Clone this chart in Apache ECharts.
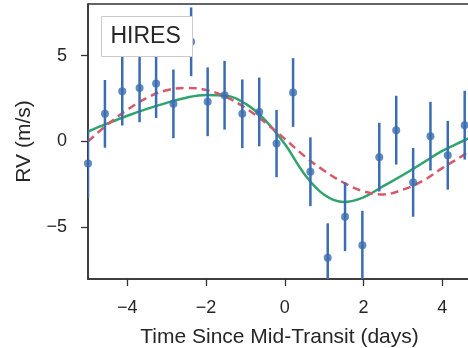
<!DOCTYPE html>
<html>
<head>
<meta charset="utf-8">
<script src="https://cdn.jsdelivr.net/npm/echarts@6/dist/echarts.min.js"></script>
<style>
html,body{margin:0;padding:0;background:#fff;}
#chart{width:468px;height:348px;}
</style>
</head>
<body>
<div id="chart"></div>
<script>
// Data points (time, RV, error)
var obsTime = [-5.0, -4.57, -4.13, -3.69, -3.27, -2.83, -2.38, -1.96, -1.53, -1.08, -0.65, -0.21, 0.21, 0.65, 1.09, 1.53, 1.97, 2.40, 2.83, 3.26, 3.70, 4.14, 4.57];
var obsRV   = [-1.28, 1.61, 2.93, 3.12, 3.37, 2.19, 5.8, 2.31, 2.69, 1.61, 1.72, -0.12, 2.85, -1.76, -6.76, -4.38, -6.03, -0.91, 0.66, -2.38, 0.31, -0.80, 0.95];
var obsErr  = [2.0, 1.97, 2.0, 2.0, 2.0, 2.0, 2.0, 2.0, 2.0, 2.0, 2.0, 1.96, 2.0, 2.0, 2.0, 2.0, 2.0, 2.0, 2.0, 2.0, 2.0, 2.0, 2.0];

// Model curves
var modelTime  = [-5.0, -4.5, -4.0, -3.5, -3.0, -2.5, -2.0, -1.5, -1.0, -0.5, 0.0, 0.5, 1.0, 1.5, 2.0, 2.5, 3.0, 3.5, 4.0, 4.5, 4.73];
var greenModel = [0.58, 1.05, 1.5, 1.9, 2.25, 2.55, 2.7, 2.66, 2.2, 1.25, -0.15, -1.9, -3.1, -3.52, -3.25, -2.6, -1.95, -1.25, -0.55, 0.0, 0.24];
var redModel   = [0.0, 1.0, 1.85, 2.55, 2.98, 3.12, 3.0, 2.6, 1.95, 1.1, 0.15, -0.85, -1.7, -2.4, -2.9, -3.08, -2.8, -2.3, -1.55, -0.85, -0.48];

var xTicks = [-4, -2, 0, 2, 4];
var yTicks = [-5, 0, 5];
var legendText = 'HIRES';

var errData = obsTime.map(function (t, i) { return [t, obsRV[i], obsErr[i]]; });
var ptData = obsTime.map(function (t, i) { return [t, obsRV[i]]; });
var greenData = modelTime.map(function (t, i) { return [t, greenModel[i]]; });
var redData = modelTime.map(function (t, i) { return [t, redModel[i]]; });

var blue = '#3a6db2';
var fmt = function (v) { return String(v).replace('-', '\u2212'); };
var font = '"Liberation Sans", Arial, sans-serif';

var chart = echarts.init(document.getElementById('chart'));
chart.setOption({
  animation: false,
  backgroundColor: '#fff',
  grid: { left: 88, top: 4, right: -3, bottom: 69, show: true, borderColor: '#333', borderWidth: 1.5, backgroundColor: 'transparent', containLabel: false, outerBoundsMode: 'none' },
  xAxis: {
    type: 'value', min: -5, max: 4.73,
    name: 'Time Since Mid-Transit (days)', nameLocation: 'middle', nameGap: 48,
    nameTextStyle: { fontFamily: font, fontSize: 21, color: '#262626' },
    axisLine: { show: true, onZero: false, lineStyle: { color: '#333', width: 1.5 } },
    axisTick: { show: true, length: 7, customValues: xTicks, lineStyle: { color: '#333', width: 1.3 } },
    axisLabel: { customValues: xTicks, formatter: fmt, margin: 20, fontFamily: font, fontSize: 18, color: '#262626' },
    splitLine: { show: false }
  },
  yAxis: {
    type: 'value', min: -8, max: 8,
    name: 'RV (m/s)', nameLocation: 'middle', nameGap: 53,
    nameTextStyle: { fontFamily: font, fontSize: 21, color: '#262626' },
    axisLine: { show: true, onZero: false, lineStyle: { color: '#333', width: 1.5 } },
    axisTick: { show: true, length: 7, customValues: yTicks, lineStyle: { color: '#333', width: 1.3 } },
    axisLabel: { customValues: yTicks, formatter: fmt, margin: 21, fontFamily: font, fontSize: 18, color: '#262626' },
    splitLine: { show: false }
  },
  series: [
    {
      type: 'line', data: greenData, smooth: 0.4, showSymbol: false, clip: true,
      lineStyle: { color: '#2fa46b', width: 2.5 }, z: 2
    },
    {
      type: 'line', data: redData, smooth: 0.4, showSymbol: false, clip: true,
      lineStyle: { color: '#d6596b', width: 2.5, type: [8, 5] }, z: 2
    },
    {
      type: 'custom', data: errData, clip: true, z: 3,
      renderItem: function (params, api) {
        var x = api.value(0), y = api.value(1), e = api.value(2);
        var p1 = api.coord([x, y - e]);
        var p2 = api.coord([x, y + e]);
        return {
          type: 'line',
          shape: { x1: p1[0], y1: p1[1], x2: p2[0], y2: p2[1] },
          style: { stroke: blue, lineWidth: 2.5 }
        };
      }
    },
    {
      type: 'scatter', data: ptData, symbolSize: 8, clip: true, z: 4,
      itemStyle: { color: blue }
    }
  ],
  graphic: [
    {
      type: 'group', left: 101, top: 16, z: 100, zlevel: 1,
      children: [
        { type: 'rect', z: 100, shape: { x: 0, y: 0, width: 91, height: 40 }, style: { fill: '#fff', stroke: '#cccccc', lineWidth: 1 } },
        { type: 'text', z: 101, x: 9, y: 20, style: { text: legendText, fontFamily: font, fontSize: 23, fill: '#262626', verticalAlign: 'middle' } }
      ]
    }
  ]
});
</script>
</body>
</html>
